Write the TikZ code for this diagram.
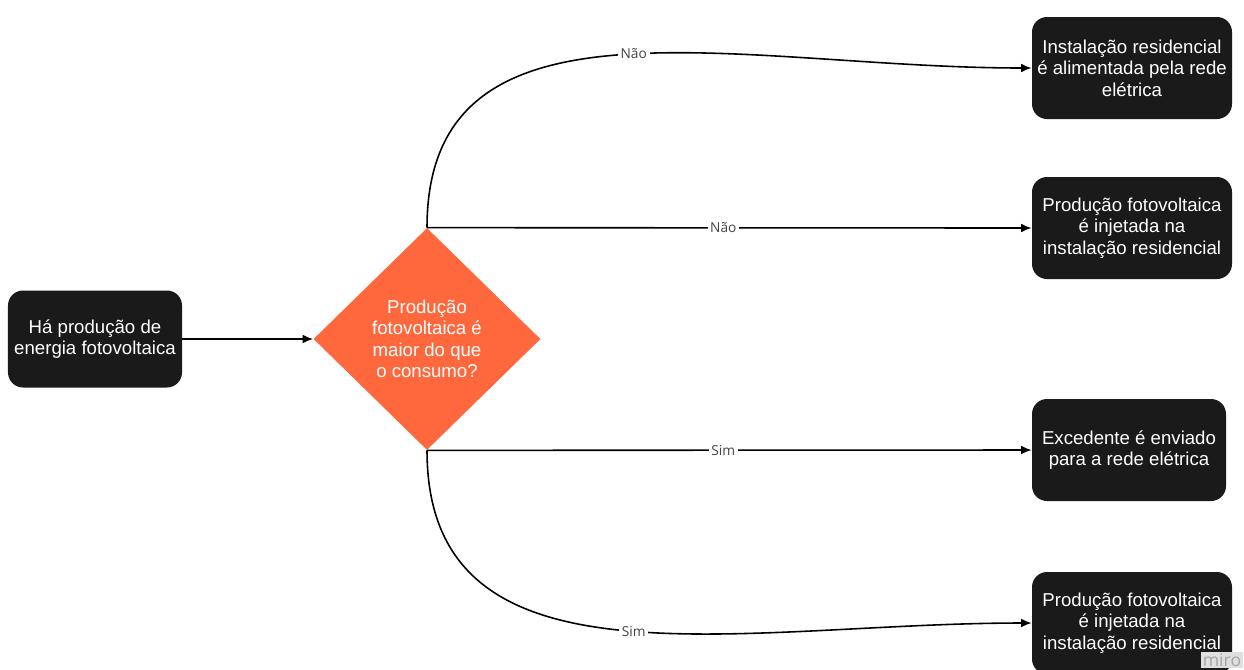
\documentclass[tikz,border=0pt]{standalone}
\usepackage{fontspec}
\setmainfont{Liberation Sans}
\newfontfamily\lblfont{Open Sans}
\usetikzlibrary{shapes.geometric,arrows.meta}
\definecolor{boxblack}{HTML}{1A1A1A}
\definecolor{decorange}{HTML}{FF673D}
\definecolor{lblgray}{HTML}{444444}

\begin{document}
\begin{tikzpicture}
    \tikzstyle{stepbox}=[draw=none,fill=boxblack,text=white,rounded corners=0.3cm,align=center,inner sep=0pt,minimum width=4cm,minimum height=2.04cm,font=\fontsize{10.6}{12.2}\selectfont]
    \tikzstyle{decision}=[diamond,fill=decorange,text=white,align=center,inner sep=0pt,minimum width=4.54cm,minimum height=4.44cm,font=\fontsize{10.6}{12.2}\selectfont]
    \tikzstyle{link}=[line width=0.9pt,-{Latex[length=6pt,width=5pt]}]
    \tikzstyle{answer}=[fill=white,text=lblgray,inner sep=1.5pt,font=\lblfont\fontsize{7.8}{9}\selectfont]
    \useasboundingbox (0,0) rectangle (24.88,-13.38);
    \clip (0,0) rectangle (24.88,-13.38);

    % start and question
    \node[stepbox,minimum width=3.48cm,minimum height=1.94cm] (start) at (1.9,-6.78) {Há produção de\\energia fotovoltaica};
    \node[decision] (dec) at (8.54,-6.78) {Produção\\fotovoltaica é\\maior do que\\o consumo?};

    % outcomes
    \node[stepbox] (grid) at (22.64,-1.36) {Instalação residencial\\é alimentada pela rede\\elétrica};
    \node[stepbox] (selfno) at (22.64,-4.56) {Produção fotovoltaica\\é injetada na\\instalação residencial};
    \node[stepbox,minimum width=3.88cm] (excess) at (22.58,-9.0) {Excedente é enviado\\para a rede elétrica};
    \node[stepbox] (selfyes) at (22.64,-12.46) {Produção fotovoltaica\\é injetada na\\instalação residencial};

    \node[fill=gray!25,text=gray!70,inner sep=1pt,font=\lblfont\fontsize{10}{10}\selectfont] (wm) at (24.44,-13.2) {miro};

    % connectors
    \draw[link] (start) -- (dec.west);
    \draw[link] (dec.north) .. controls +(0,4.96) and +(-5.84,0) .. node[answer,pos=0.52] {Não} (grid.west);
    \draw[link] (dec.north) -- node[answer,pos=0.49] {Não} (selfno.west);
    \draw[link] (dec.south) -- node[answer,pos=0.49] {Sim} (excess.west);
    \draw[link] (dec.south) .. controls +(0,-4.98) and +(-5.84,0) .. node[answer,pos=0.52] {Sim} (selfyes.west);
\end{tikzpicture}
\end{document}
